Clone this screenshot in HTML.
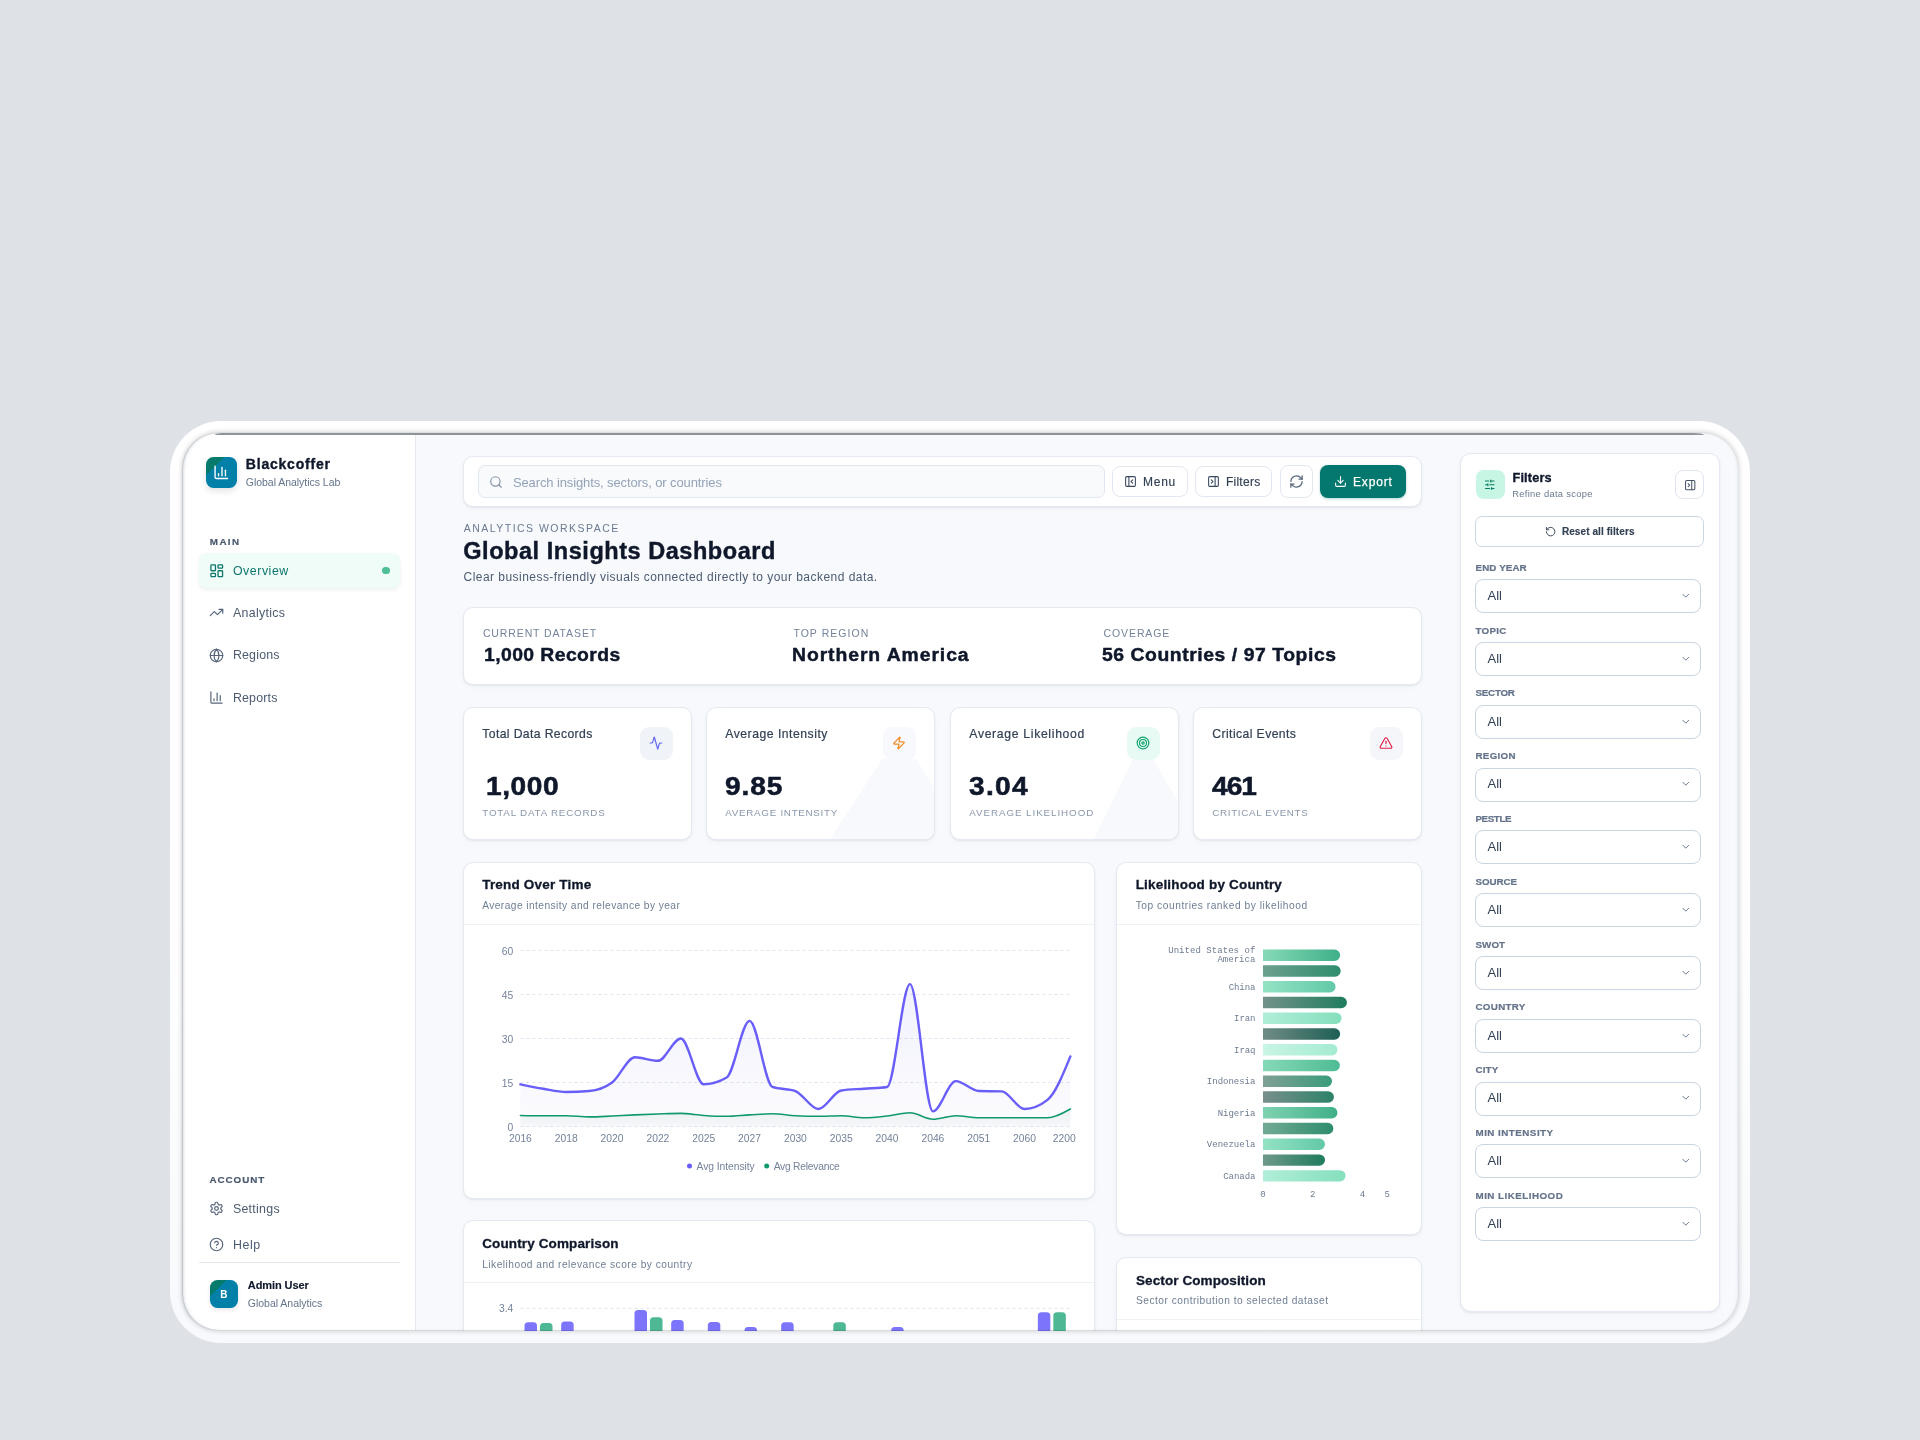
<!DOCTYPE html>
<html lang="en"><head><meta charset="utf-8"><title>Global Insights Dashboard</title><style>
html,body{margin:0;padding:0}
html{width:1920px;height:1440px;overflow:hidden}
body{width:1920px;height:1440px;overflow:hidden;background:#dee1e6;font-family:"Liberation Sans",sans-serif;position:relative}
.b{position:absolute;box-sizing:border-box}
.t{position:absolute;white-space:pre;font-family:"Liberation Sans",sans-serif}
#shell{position:absolute;left:169.7px;top:420.8px;width:1580.6px;height:922px;border-radius:51px;background:linear-gradient(180deg,#ffffff 0%,#fefefe 55%,#f8f9fc 100%)}
#screen{will-change:transform;opacity:.9999;overflow:hidden;position:absolute;left:0;top:0;width:1920px;height:1440px;clip-path:inset(433px 182px 109.7px 183px round 36px);background:#f7f9fc}
#edge{position:absolute;left:183px;top:433px;width:1555px;height:897.3px;border-radius:36px;box-sizing:border-box;box-shadow:0 0 5px 0.5px rgba(20,24,32,.20), -1px 0 1.5px rgba(30,41,59,.16), inset 2.5px 0 3px -1.5px rgba(148,163,184,.35), inset -2px 0 3px -1.5px rgba(148,163,184,.18);pointer-events:none}
#topline{position:absolute;left:215px;top:433px;width:1488.5px;height:2px;background:#8e9499;border-radius:7px 11px 0 0/2px 2px 0 0}
</style></head><body>
<div id="shell"></div>
<div id="screen">
<div class="b" style="left:183.00px;top:434.00px;width:232.00px;height:897.00px;background:#ffffff;border-right:1px solid #e4e8ef;box-sizing:content-box;"></div><div class="b" style="left:206.00px;top:457.00px;width:30.60px;height:30.60px;border-radius:7.5px;background:linear-gradient(135deg,#067a6c 29%,#0380a8 29.5%);box-shadow:0 3px 6px rgba(15,23,42,.12);"></div><svg class="b" style="left:213.00px;top:464.00px;" width="16.6" height="16.6" viewBox="0 0 24 24" fill="none" stroke="#ffffff" stroke-width="2" stroke-linecap="round" stroke-linejoin="round"><path d="M3 3v16a2 2 0 0 0 2 2h16"/><path d="M18 17V9"/><path d="M13 17V5"/><path d="M8 17v-3"/></svg><span class="t" style="left:245.80px;top:455.96px;font-size:14px;line-height:16.8px;color:#0f172a;font-weight:700;letter-spacing:0.793px;-webkit-text-stroke:0.35px #0f172a;">Blackcoffer</span><span class="t" style="left:245.80px;top:476.12px;font-size:10.5px;line-height:12.6px;color:#64748b;letter-spacing:-0.035px;">Global Analytics Lab</span><span class="t" style="left:209.80px;top:535.73px;font-size:9.8px;line-height:11.76px;color:#4a596e;font-weight:700;letter-spacing:1.418px;-webkit-text-stroke:0.2px #4a596e;">MAIN</span><div class="b" style="left:198.60px;top:552.60px;width:201.80px;height:35.00px;border-radius:8px;background:#effcf7;box-shadow:0 2px 4px rgba(15,23,42,.07);"></div><svg class="b" style="left:208.75px;top:562.75px;" width="15.5" height="15.5" viewBox="0 0 24 24" fill="none" stroke="#0f766e" stroke-width="2" stroke-linecap="round" stroke-linejoin="round"><rect width="7" height="9" x="3" y="3" rx="1"/><rect width="7" height="5" x="14" y="3" rx="1"/><rect width="7" height="9" x="14" y="12" rx="1"/><rect width="7" height="5" x="3" y="16" rx="1"/></svg><span class="t" style="left:232.90px;top:563.65px;font-size:12.4px;line-height:14.88px;color:#0f766e;letter-spacing:0.537px;">Overview</span><div class="b" style="left:382px;top:566.7px;width:7.6px;height:7.6px;border-radius:50%;background:#4fc096"></div><svg class="b" style="left:209.00px;top:605.30px;" width="15" height="15" viewBox="0 0 24 24" fill="none" stroke="#56657b" stroke-width="1.9" stroke-linecap="round" stroke-linejoin="round"><polyline points="22 7 13.5 15.5 8.5 10.5 2 17"/><polyline points="16 7 22 7 22 13"/></svg><span class="t" style="left:232.90px;top:605.70px;font-size:12.4px;line-height:14.88px;color:#4c5b70;letter-spacing:0.313px;">Analytics</span><svg class="b" style="left:209.00px;top:647.60px;" width="15" height="15" viewBox="0 0 24 24" fill="none" stroke="#56657b" stroke-width="1.9" stroke-linecap="round" stroke-linejoin="round"><circle cx="12" cy="12" r="10"/><path d="M12 2a14.5 14.5 0 0 0 0 20 14.5 14.5 0 0 0 0-20"/><path d="M2 12h20"/></svg><span class="t" style="left:232.90px;top:647.50px;font-size:12.4px;line-height:14.88px;color:#4c5b70;letter-spacing:0.189px;">Regions</span><svg class="b" style="left:209.00px;top:690.00px;" width="15" height="15" viewBox="0 0 24 24" fill="none" stroke="#56657b" stroke-width="1.9" stroke-linecap="round" stroke-linejoin="round"><path d="M3 3v16a2 2 0 0 0 2 2h16"/><path d="M18 17V9"/><path d="M13 17V5"/><path d="M8 17v-3"/></svg><span class="t" style="left:232.90px;top:690.65px;font-size:12.4px;line-height:14.88px;color:#4c5b70;letter-spacing:0.185px;">Reports</span><span class="t" style="left:209.50px;top:1174.28px;font-size:9.8px;line-height:11.76px;color:#4a596e;font-weight:700;letter-spacing:0.953px;-webkit-text-stroke:0.2px #4a596e;">ACCOUNT</span><svg class="b" style="left:209.00px;top:1201.10px;" width="15" height="15" viewBox="0 0 24 24" fill="none" stroke="#56657b" stroke-width="1.9" stroke-linecap="round" stroke-linejoin="round"><path d="M12.22 2h-.44a2 2 0 0 0-2 2v.18a2 2 0 0 1-1 1.73l-.43.25a2 2 0 0 1-2 0l-.15-.08a2 2 0 0 0-2.73.73l-.22.38a2 2 0 0 0 .73 2.73l.15.1a2 2 0 0 1 1 1.72v.51a2 2 0 0 1-1 1.74l-.15.09a2 2 0 0 0-.73 2.73l.22.38a2 2 0 0 0 2.73.73l.15-.08a2 2 0 0 1 2 0l.43.25a2 2 0 0 1 1 1.73V20a2 2 0 0 0 2 2h.44a2 2 0 0 0 2-2v-.18a2 2 0 0 1 1-1.73l.43-.25a2 2 0 0 1 2 0l.15.08a2 2 0 0 0 2.73-.73l.22-.39a2 2 0 0 0-.73-2.73l-.15-.08a2 2 0 0 1-1-1.74v-.5a2 2 0 0 1 1-1.74l.15-.09a2 2 0 0 0 .73-2.73l-.22-.38a2 2 0 0 0-2.73-.73l-.15.08a2 2 0 0 1-2 0l-.43-.25a2 2 0 0 1-1-1.73V4a2 2 0 0 0-2-2z"/><circle cx="12" cy="12" r="3"/></svg><span class="t" style="left:232.90px;top:1201.50px;font-size:12.4px;line-height:14.88px;color:#4c5b70;letter-spacing:0.274px;">Settings</span><svg class="b" style="left:209.00px;top:1237.10px;" width="15" height="15" viewBox="0 0 24 24" fill="none" stroke="#56657b" stroke-width="1.9" stroke-linecap="round" stroke-linejoin="round"><circle cx="12" cy="12" r="10"/><path d="M9.09 9a3 3 0 0 1 5.83 1c0 2-3 3-3 3"/><path d="M12 17h.01"/></svg><span class="t" style="left:232.90px;top:1237.50px;font-size:12.4px;line-height:14.88px;color:#4c5b70;letter-spacing:0.605px;">Help</span><div class="b" style="left:198.60px;top:1262.00px;width:201.80px;height:1.00px;background:#e4e8ef;"></div><div class="b" style="left:209.50px;top:1279.70px;width:28.80px;height:28.80px;border-radius:7.5px;background:linear-gradient(135deg,#067a6c 29%,#0380a8 29.5%);box-shadow:0 2px 4px rgba(15,23,42,.10);"></div><span class="t" style="left:220.28px;top:1288.66px;font-size:10px;line-height:12.0px;color:#ffffff;font-weight:700;">B</span><span class="t" style="left:247.80px;top:1278.83px;font-size:11px;line-height:13.2px;color:#0f172a;font-weight:700;letter-spacing:-0.083px;-webkit-text-stroke:0.15px #0f172a;">Admin User</span><span class="t" style="left:247.80px;top:1297.02px;font-size:10.5px;line-height:12.6px;color:#64748b;letter-spacing:-0.021px;">Global Analytics</span><div class="b" style="left:463.00px;top:456.00px;width:959.00px;height:51.00px;border-radius:10px;background:#ffffff;border:1px solid #e5e9f1;box-shadow:0 1px 2px rgba(15,23,42,.07), 0 3px 7px rgba(15,23,42,.025);"></div><div class="b" style="left:478.00px;top:465.00px;width:627.00px;height:33.00px;border-radius:7px;background:#f8fafc;border:1px solid #e2e8f0;"></div><svg class="b" style="left:489.30px;top:474.70px;" width="14" height="14" viewBox="0 0 24 24" fill="none" stroke="#8593a8" stroke-width="2" stroke-linecap="round" stroke-linejoin="round"><circle cx="11" cy="11" r="8"/><path d="m21 21-4.3-4.3"/></svg><span class="t" style="left:512.90px;top:474.70px;font-size:13px;line-height:15.6px;color:#94a3b8;letter-spacing:-0.112px;">Search insights, sectors, or countries</span><div class="b" style="left:1112.00px;top:466.00px;width:76.00px;height:31.00px;border-radius:8px;background:#ffffff;border:1px solid #e2e8f0;"></div><svg class="b" style="left:1124.00px;top:475.00px;" width="13" height="13" viewBox="0 0 24 24" fill="none" stroke="#3b4a60" stroke-width="2" stroke-linecap="round" stroke-linejoin="round"><rect width="18" height="18" x="3" y="3" rx="2"/><path d="M9 3v18"/><path d="m16 15-3-3 3-3"/></svg><span class="t" style="left:1143.10px;top:474.54px;font-size:12px;line-height:14.4px;color:#334155;letter-spacing:0.723px;-webkit-text-stroke:0.15px #334155;">Menu</span><div class="b" style="left:1195.00px;top:466.00px;width:77.00px;height:31.00px;border-radius:8px;background:#ffffff;border:1px solid #e2e8f0;"></div><svg class="b" style="left:1207.00px;top:475.00px;" width="13" height="13" viewBox="0 0 24 24" fill="none" stroke="#3b4a60" stroke-width="2" stroke-linecap="round" stroke-linejoin="round"><rect width="18" height="18" x="3" y="3" rx="2"/><path d="M15 3v18"/><path d="m8 9 3 3-3 3"/></svg><span class="t" style="left:1225.90px;top:474.54px;font-size:12px;line-height:14.4px;color:#334155;letter-spacing:0.271px;-webkit-text-stroke:0.15px #334155;">Filters</span><div class="b" style="left:1280.00px;top:465.00px;width:33.00px;height:33.00px;border-radius:8px;background:#ffffff;border:1px solid #e2e8f0;"></div><svg class="b" style="left:1288.70px;top:474.00px;" width="15" height="15" viewBox="0 0 24 24" fill="none" stroke="#56657a" stroke-width="2" stroke-linecap="round" stroke-linejoin="round"><path d="M3 12a9 9 0 0 1 9-9 9.75 9.75 0 0 1 6.74 2.74L21 8"/><path d="M21 3v5h-5"/><path d="M21 12a9 9 0 0 1-9 9 9.75 9.75 0 0 1-6.74-2.74L3 16"/><path d="M8 16H3v5"/></svg><div class="b" style="left:1320.00px;top:465.00px;width:86.00px;height:33.00px;border-radius:8px;background:#04786e;box-shadow:0 1px 3px rgba(4,120,110,.3);"></div><svg class="b" style="left:1334.00px;top:475.30px;" width="13" height="13" viewBox="0 0 24 24" fill="none" stroke="#ffffff" stroke-width="2" stroke-linecap="round" stroke-linejoin="round"><path d="M21 15v4a2 2 0 0 1-2 2H5a2 2 0 0 1-2-2v-4"/><polyline points="7 10 12 15 17 10"/><line x1="12" x2="12" y1="15" y2="3"/></svg><span class="t" style="left:1353.00px;top:474.54px;font-size:12px;line-height:14.4px;color:#ffffff;letter-spacing:0.842px;-webkit-text-stroke:0.25px #ffffff;">Export</span><span class="t" style="left:463.70px;top:522.12px;font-size:10.5px;line-height:12.6px;color:#6b7a90;letter-spacing:1.480px;">ANALYTICS WORKSPACE</span><span class="t" style="left:463.30px;top:536.97px;font-size:23.5px;line-height:28.2px;color:#0f172a;font-weight:700;letter-spacing:0.541px;-webkit-text-stroke:0.4px #0f172a;">Global Insights Dashboard</span><span class="t" style="left:463.50px;top:569.64px;font-size:12px;line-height:14.4px;color:#4c5b70;letter-spacing:0.462px;">Clear business-friendly visuals connected directly to your backend data.</span><div class="b" style="left:463.00px;top:607.00px;width:959.00px;height:78.00px;border-radius:10px;background:#ffffff;border:1px solid #e5e9f1;box-shadow:0 1px 2px rgba(15,23,42,.07), 0 3px 7px rgba(15,23,42,.025);"></div><span class="t" style="left:482.90px;top:626.72px;font-size:10.5px;line-height:12.6px;color:#74839a;letter-spacing:0.883px;">CURRENT DATASET</span><span class="t" style="left:483.60px;top:643.64px;font-size:18.8px;line-height:22.56px;color:#0f172a;font-weight:700;letter-spacing:0.413px;transform:scaleX(1.030);transform-origin:left center;-webkit-text-stroke:0.45px #0f172a;">1,000 Records</span><span class="t" style="left:793.40px;top:626.72px;font-size:10.5px;line-height:12.6px;color:#74839a;letter-spacing:1.039px;">TOP REGION</span><span class="t" style="left:792.20px;top:643.64px;font-size:18.8px;line-height:22.56px;color:#0f172a;font-weight:700;letter-spacing:0.900px;transform:scaleX(1.030);transform-origin:left center;-webkit-text-stroke:0.45px #0f172a;">Northern America</span><span class="t" style="left:1103.60px;top:626.72px;font-size:10.5px;line-height:12.6px;color:#74839a;letter-spacing:0.883px;">COVERAGE</span><span class="t" style="left:1102.40px;top:643.64px;font-size:18.8px;line-height:22.56px;color:#0f172a;font-weight:700;letter-spacing:0.545px;transform:scaleX(1.030);transform-origin:left center;-webkit-text-stroke:0.45px #0f172a;">56 Countries / 97 Topics</span><div class="b" style="left:463.00px;top:707.00px;width:229.00px;height:133.00px;border-radius:10px;background:#ffffff;border:1px solid #e5e9f1;box-shadow:0 1px 2px rgba(15,23,42,.07), 0 3px 7px rgba(15,23,42,.025);overflow:hidden;"></div><span class="t" style="left:482.30px;top:726.67px;font-size:12.2px;line-height:14.64px;color:#334155;letter-spacing:0.374px;-webkit-text-stroke:0.2px #334155;">Total Data Records</span><div class="b" style="left:639.60px;top:726.50px;width:33.00px;height:33.00px;border-radius:9px;background:#f0f3f8;"></div><svg class="b" style="left:649.10px;top:736.00px;" width="14" height="14" viewBox="0 0 24 24" fill="none" stroke="#6366f1" stroke-width="2" stroke-linecap="round" stroke-linejoin="round"><path d="M22 12h-2.48a2 2 0 0 0-1.93 1.46l-2.35 8.36a.25.25 0 0 1-.48 0L9.24 2.18a.25.25 0 0 0-.48 0l-2.35 8.36A2 2 0 0 1 4.49 12H2"/></svg><span class="t" style="left:485.50px;top:770.70px;font-size:26px;line-height:31.2px;color:#0f172a;font-weight:700;letter-spacing:0.536px;transform:scaleX(1.080);transform-origin:left center;-webkit-text-stroke:0.55px #0f172a;">1,000</span><span class="t" style="left:482.30px;top:806.93px;font-size:9.8px;line-height:11.76px;color:#8a97ab;letter-spacing:0.796px;">TOTAL DATA RECORDS</span><div class="b" style="left:706.00px;top:707.00px;width:229.00px;height:133.00px;border-radius:10px;background:#ffffff;border:1px solid #e5e9f1;box-shadow:0 1px 2px rgba(15,23,42,.07), 0 3px 7px rgba(15,23,42,.025);overflow:hidden;"><svg width="229" height="133" style="position:absolute;left:-1px;top:-1px"><polygon points="176.3,52.0 210.1,52.0 229.0,81.5 229.0,133.0 123.5,133.0" fill="#f8f9fc"/></svg></div><span class="t" style="left:725.30px;top:726.67px;font-size:12.2px;line-height:14.64px;color:#334155;letter-spacing:0.509px;-webkit-text-stroke:0.2px #334155;">Average Intensity</span><div class="b" style="left:882.60px;top:726.50px;width:33.00px;height:33.00px;border-radius:9px;background:#f8f9fc;"></div><svg class="b" style="left:892.10px;top:736.00px;" width="14" height="14" viewBox="0 0 24 24" fill="none" stroke="#f08a24" stroke-width="2" stroke-linecap="round" stroke-linejoin="round"><path d="M4 14a1 1 0 0 1-.78-1.63l9.9-10.2a.5.5 0 0 1 .86.46l-1.92 6.02A1 1 0 0 0 13 10h7a1 1 0 0 1 .78 1.63l-9.9 10.2a.5.5 0 0 1-.86-.46l1.92-6.02A1 1 0 0 0 11 14z"/></svg><span class="t" style="left:725.30px;top:770.70px;font-size:26px;line-height:31.2px;color:#0f172a;font-weight:700;letter-spacing:0.815px;transform:scaleX(1.080);transform-origin:left center;-webkit-text-stroke:0.55px #0f172a;">9.85</span><span class="t" style="left:725.30px;top:806.93px;font-size:9.8px;line-height:11.76px;color:#8a97ab;letter-spacing:0.717px;">AVERAGE INTENSITY</span><div class="b" style="left:950.00px;top:707.00px;width:229.00px;height:133.00px;border-radius:10px;background:#ffffff;border:1px solid #e5e9f1;box-shadow:0 1px 2px rgba(15,23,42,.07), 0 3px 7px rgba(15,23,42,.025);overflow:hidden;"><svg width="229" height="133" style="position:absolute;left:-1px;top:-1px"><polygon points="182.5,53.0 203.5,53.0 229.0,96.0 229.0,133.0 143.5,133.0" fill="#f8f9fc"/></svg></div><span class="t" style="left:969.30px;top:726.67px;font-size:12.2px;line-height:14.64px;color:#334155;letter-spacing:0.679px;-webkit-text-stroke:0.2px #334155;">Average Likelihood</span><div class="b" style="left:1126.60px;top:726.50px;width:33.00px;height:33.00px;border-radius:9px;background:#e7faf3;"></div><svg class="b" style="left:1136.10px;top:736.00px;" width="14" height="14" viewBox="0 0 24 24" fill="none" stroke="#10a36e" stroke-width="2" stroke-linecap="round" stroke-linejoin="round"><circle cx="12" cy="12" r="10"/><circle cx="12" cy="12" r="6"/><circle cx="12" cy="12" r="2"/></svg><span class="t" style="left:969.30px;top:770.70px;font-size:26px;line-height:31.2px;color:#0f172a;font-weight:700;letter-spacing:1.186px;transform:scaleX(1.080);transform-origin:left center;-webkit-text-stroke:0.55px #0f172a;">3.04</span><span class="t" style="left:969.30px;top:806.93px;font-size:9.8px;line-height:11.76px;color:#8a97ab;letter-spacing:0.931px;">AVERAGE LIKELIHOOD</span><div class="b" style="left:1193.00px;top:707.00px;width:229.00px;height:133.00px;border-radius:10px;background:#ffffff;border:1px solid #e5e9f1;box-shadow:0 1px 2px rgba(15,23,42,.07), 0 3px 7px rgba(15,23,42,.025);overflow:hidden;"></div><span class="t" style="left:1212.30px;top:726.67px;font-size:12.2px;line-height:14.64px;color:#334155;letter-spacing:0.408px;-webkit-text-stroke:0.2px #334155;">Critical Events</span><div class="b" style="left:1369.60px;top:726.50px;width:33.00px;height:33.00px;border-radius:9px;background:#f5f6fa;"></div><svg class="b" style="left:1379.10px;top:736.00px;" width="14" height="14" viewBox="0 0 24 24" fill="none" stroke="#e11d48" stroke-width="2" stroke-linecap="round" stroke-linejoin="round"><path d="m21.73 18-8-14a2 2 0 0 0-3.48 0l-8 14A2 2 0 0 0 4 21h16a2 2 0 0 0 1.73-3"/><path d="M12 9v4"/><path d="M12 17h.01"/></svg><span class="t" style="left:1212.30px;top:770.70px;font-size:26px;line-height:31.2px;color:#0f172a;font-weight:700;letter-spacing:-0.862px;transform:scaleX(1.080);transform-origin:left center;-webkit-text-stroke:0.55px #0f172a;">461</span><span class="t" style="left:1212.30px;top:806.93px;font-size:9.8px;line-height:11.76px;color:#8a97ab;letter-spacing:0.664px;">CRITICAL EVENTS</span><div class="b" style="left:463.00px;top:862.00px;width:632.00px;height:337.00px;border-radius:10px;background:#ffffff;border:1px solid #e5e9f1;box-shadow:0 1px 2px rgba(15,23,42,.07), 0 3px 7px rgba(15,23,42,.025);"></div><div class="b" style="left:464.00px;top:924.00px;width:630.00px;height:1.00px;background:#eef1f6;"></div><span class="t" style="left:482.20px;top:877.06px;font-size:13.5px;line-height:16.2px;color:#0f172a;font-weight:700;letter-spacing:0.193px;-webkit-text-stroke:0.3px #0f172a;">Trend Over Time</span><span class="t" style="left:482.20px;top:899.60px;font-size:10.2px;line-height:12.24px;color:#6f7e94;letter-spacing:0.438px;">Average intensity and relevance by year</span><svg class="b" style="left:0;top:0" width="1920" height="1440" viewBox="0 0 1920 1440"><defs><linearGradient id="gi" x1="0" y1="0" x2="0" y2="1"><stop offset="0" stop-color="#5b60d8" stop-opacity=".085"/><stop offset="1" stop-color="#5b60d8" stop-opacity=".02"/></linearGradient><linearGradient id="gr" x1="0" y1="0" x2="0" y2="1"><stop offset="0" stop-color="#3a7a68" stop-opacity=".09"/><stop offset="1" stop-color="#3a7a68" stop-opacity=".03"/></linearGradient></defs><line x1="520.4" x2="1070.4" y1="1126.60" y2="1126.60" stroke="#dfe4f0" stroke-width="1" stroke-dasharray="3 3"/><line x1="520.4" x2="1070.4" y1="1082.55" y2="1082.55" stroke="#dfe4f0" stroke-width="1" stroke-dasharray="3 3"/><line x1="520.4" x2="1070.4" y1="1038.50" y2="1038.50" stroke="#dfe4f0" stroke-width="1" stroke-dasharray="3 3"/><line x1="520.4" x2="1070.4" y1="994.45" y2="994.45" stroke="#dfe4f0" stroke-width="1" stroke-dasharray="3 3"/><line x1="520.4" x2="1070.4" y1="950.40" y2="950.40" stroke="#dfe4f0" stroke-width="1" stroke-dasharray="3 3"/><path d="M520.40,1084.31C528.04,1085.88,535.68,1087.44,543.32,1088.72C550.96,1089.99,558.59,1091.95,566.23,1091.95C573.87,1091.95,581.51,1091.65,589.15,1091.07C596.79,1090.48,604.43,1088.18,612.07,1082.55C619.71,1076.92,627.34,1057.29,634.98,1057.29C642.62,1057.29,650.26,1060.82,657.90,1060.82C665.54,1060.82,673.18,1038.50,680.82,1038.50C688.46,1038.50,696.09,1084.31,703.73,1084.31C711.37,1084.31,719.01,1082.06,726.65,1077.56C734.29,1073.05,741.93,1020.88,749.57,1020.88C757.21,1020.88,764.84,1084.21,772.48,1086.95C780.12,1089.70,787.76,1088.33,795.40,1091.07C803.04,1093.81,810.68,1108.98,818.32,1108.98C825.96,1108.98,833.59,1091.65,841.23,1090.48C848.87,1089.30,856.51,1089.30,864.15,1088.72C871.79,1088.13,879.43,1088.13,887.07,1086.95C894.71,1085.78,902.34,984.17,909.98,984.17C917.62,984.17,925.26,1111.33,932.90,1111.33C940.54,1111.33,948.18,1081.08,955.82,1081.08C963.46,1081.08,971.09,1090.87,978.73,1091.07C986.37,1091.26,994.01,1091.16,1001.65,1091.36C1009.29,1091.56,1016.93,1108.98,1024.57,1108.98C1032.21,1108.98,1039.84,1105.95,1047.48,1099.88C1055.12,1093.81,1062.76,1075.11,1070.40,1056.41L1070.40,1126.60L520.40,1126.60Z" fill="url(#gi)"/><path d="M520.40,1084.31C528.04,1085.88,535.68,1087.44,543.32,1088.72C550.96,1089.99,558.59,1091.95,566.23,1091.95C573.87,1091.95,581.51,1091.65,589.15,1091.07C596.79,1090.48,604.43,1088.18,612.07,1082.55C619.71,1076.92,627.34,1057.29,634.98,1057.29C642.62,1057.29,650.26,1060.82,657.90,1060.82C665.54,1060.82,673.18,1038.50,680.82,1038.50C688.46,1038.50,696.09,1084.31,703.73,1084.31C711.37,1084.31,719.01,1082.06,726.65,1077.56C734.29,1073.05,741.93,1020.88,749.57,1020.88C757.21,1020.88,764.84,1084.21,772.48,1086.95C780.12,1089.70,787.76,1088.33,795.40,1091.07C803.04,1093.81,810.68,1108.98,818.32,1108.98C825.96,1108.98,833.59,1091.65,841.23,1090.48C848.87,1089.30,856.51,1089.30,864.15,1088.72C871.79,1088.13,879.43,1088.13,887.07,1086.95C894.71,1085.78,902.34,984.17,909.98,984.17C917.62,984.17,925.26,1111.33,932.90,1111.33C940.54,1111.33,948.18,1081.08,955.82,1081.08C963.46,1081.08,971.09,1090.87,978.73,1091.07C986.37,1091.26,994.01,1091.16,1001.65,1091.36C1009.29,1091.56,1016.93,1108.98,1024.57,1108.98C1032.21,1108.98,1039.84,1105.95,1047.48,1099.88C1055.12,1093.81,1062.76,1075.11,1070.40,1056.41" fill="none" stroke="#6a5ef9" stroke-width="2.4" stroke-linecap="round" stroke-linejoin="round"/><path d="M520.40,1115.44C528.04,1115.59,535.68,1115.73,543.32,1115.73C550.96,1115.73,558.59,1115.73,566.23,1115.73C573.87,1115.73,581.51,1116.91,589.15,1116.91C596.79,1116.91,604.43,1116.37,612.07,1116.03C619.71,1115.69,627.34,1115.20,634.98,1114.85C642.62,1114.51,650.26,1114.22,657.90,1113.97C665.54,1113.73,673.18,1113.38,680.82,1113.38C688.46,1113.38,696.09,1114.95,703.73,1115.44C711.37,1115.93,719.01,1116.32,726.65,1116.32C734.29,1116.32,741.93,1115.29,749.57,1114.85C757.21,1114.41,764.84,1113.68,772.48,1113.68C780.12,1113.68,787.76,1115.34,795.40,1115.73C803.04,1116.13,810.68,1116.32,818.32,1116.32C825.96,1116.32,833.59,1115.73,841.23,1115.73C848.87,1115.73,856.51,1117.79,864.15,1117.79C871.79,1117.79,879.43,1116.86,887.07,1116.03C894.71,1115.20,902.34,1112.80,909.98,1112.80C917.62,1112.80,925.26,1119.26,932.90,1119.26C940.54,1119.26,948.18,1115.73,955.82,1115.73C963.46,1115.73,971.09,1117.79,978.73,1117.79C986.37,1117.79,994.01,1117.79,1001.65,1117.79C1009.29,1117.79,1016.93,1117.79,1024.57,1117.79C1032.21,1117.79,1039.84,1117.79,1047.48,1117.79C1055.12,1117.79,1062.76,1113.38,1070.40,1108.98L1070.40,1126.60L520.40,1126.60Z" fill="url(#gr)"/><path d="M520.40,1115.44C528.04,1115.59,535.68,1115.73,543.32,1115.73C550.96,1115.73,558.59,1115.73,566.23,1115.73C573.87,1115.73,581.51,1116.91,589.15,1116.91C596.79,1116.91,604.43,1116.37,612.07,1116.03C619.71,1115.69,627.34,1115.20,634.98,1114.85C642.62,1114.51,650.26,1114.22,657.90,1113.97C665.54,1113.73,673.18,1113.38,680.82,1113.38C688.46,1113.38,696.09,1114.95,703.73,1115.44C711.37,1115.93,719.01,1116.32,726.65,1116.32C734.29,1116.32,741.93,1115.29,749.57,1114.85C757.21,1114.41,764.84,1113.68,772.48,1113.68C780.12,1113.68,787.76,1115.34,795.40,1115.73C803.04,1116.13,810.68,1116.32,818.32,1116.32C825.96,1116.32,833.59,1115.73,841.23,1115.73C848.87,1115.73,856.51,1117.79,864.15,1117.79C871.79,1117.79,879.43,1116.86,887.07,1116.03C894.71,1115.20,902.34,1112.80,909.98,1112.80C917.62,1112.80,925.26,1119.26,932.90,1119.26C940.54,1119.26,948.18,1115.73,955.82,1115.73C963.46,1115.73,971.09,1117.79,978.73,1117.79C986.37,1117.79,994.01,1117.79,1001.65,1117.79C1009.29,1117.79,1016.93,1117.79,1024.57,1117.79C1032.21,1117.79,1039.84,1117.79,1047.48,1117.79C1055.12,1117.79,1062.76,1113.38,1070.40,1108.98" fill="none" stroke="#109a6c" stroke-width="1.6" stroke-linecap="round" stroke-linejoin="round"/><circle cx="689.5" cy="1166.1" r="2.5" fill="#6a5ef9"/><circle cx="766.7" cy="1166.1" r="2.5" fill="#109a6c"/></svg><span class="t" style="left:507.57px;top:1121.74px;font-size:10.3px;line-height:12.36px;color:#74829a;">0</span><span class="t" style="left:501.83px;top:1077.69px;font-size:10.3px;line-height:12.36px;color:#74829a;">15</span><span class="t" style="left:501.83px;top:1033.64px;font-size:10.3px;line-height:12.36px;color:#74829a;">30</span><span class="t" style="left:501.83px;top:989.59px;font-size:10.3px;line-height:12.36px;color:#74829a;">45</span><span class="t" style="left:501.83px;top:945.54px;font-size:10.3px;line-height:12.36px;color:#74829a;">60</span><span class="t" style="left:508.95px;top:1132.64px;font-size:10.3px;line-height:12.36px;color:#74829a;letter-spacing:-0.007px;">2016</span><span class="t" style="left:554.78px;top:1132.64px;font-size:10.3px;line-height:12.36px;color:#74829a;letter-spacing:-0.007px;">2018</span><span class="t" style="left:600.62px;top:1132.64px;font-size:10.3px;line-height:12.36px;color:#74829a;letter-spacing:-0.007px;">2020</span><span class="t" style="left:646.45px;top:1132.64px;font-size:10.3px;line-height:12.36px;color:#74829a;letter-spacing:-0.007px;">2022</span><span class="t" style="left:692.28px;top:1132.64px;font-size:10.3px;line-height:12.36px;color:#74829a;letter-spacing:-0.007px;">2025</span><span class="t" style="left:738.12px;top:1132.64px;font-size:10.3px;line-height:12.36px;color:#74829a;letter-spacing:-0.007px;">2027</span><span class="t" style="left:783.95px;top:1132.64px;font-size:10.3px;line-height:12.36px;color:#74829a;letter-spacing:-0.007px;">2030</span><span class="t" style="left:829.78px;top:1132.64px;font-size:10.3px;line-height:12.36px;color:#74829a;letter-spacing:-0.007px;">2035</span><span class="t" style="left:875.62px;top:1132.64px;font-size:10.3px;line-height:12.36px;color:#74829a;letter-spacing:-0.007px;">2040</span><span class="t" style="left:921.45px;top:1132.64px;font-size:10.3px;line-height:12.36px;color:#74829a;letter-spacing:-0.007px;">2046</span><span class="t" style="left:967.28px;top:1132.64px;font-size:10.3px;line-height:12.36px;color:#74829a;letter-spacing:-0.007px;">2051</span><span class="t" style="left:1013.12px;top:1132.64px;font-size:10.3px;line-height:12.36px;color:#74829a;letter-spacing:-0.007px;">2060</span><span class="t" style="left:1052.85px;top:1132.64px;font-size:10.3px;line-height:12.36px;color:#74829a;letter-spacing:-0.007px;">2200</span><span class="t" style="left:696.50px;top:1160.54px;font-size:10.3px;line-height:12.36px;color:#74829a;letter-spacing:-0.047px;">Avg Intensity</span><span class="t" style="left:773.70px;top:1160.54px;font-size:10.3px;line-height:12.36px;color:#74829a;letter-spacing:-0.248px;">Avg Relevance</span><div class="b" style="left:1116.00px;top:862.00px;width:306.00px;height:373.00px;border-radius:10px;background:#ffffff;border:1px solid #e5e9f1;box-shadow:0 1px 2px rgba(15,23,42,.07), 0 3px 7px rgba(15,23,42,.025);"></div><div class="b" style="left:1117.00px;top:924.00px;width:304.00px;height:1.00px;background:#eef1f6;"></div><span class="t" style="left:1135.70px;top:876.86px;font-size:13.5px;line-height:16.2px;color:#0f172a;font-weight:700;letter-spacing:0.184px;-webkit-text-stroke:0.3px #0f172a;">Likelihood by Country</span><span class="t" style="left:1135.70px;top:899.60px;font-size:10.2px;line-height:12.24px;color:#6f7e94;letter-spacing:0.543px;">Top countries ranked by likelihood</span><svg class="b" style="left:0;top:0" width="1920" height="1440" viewBox="0 0 1920 1440"><defs><linearGradient id="b0" x1="0" y1="0" x2="1" y2="0"><stop offset="0" stop-color="#86d9b8"/><stop offset="1" stop-color="#3fb088"/></linearGradient><linearGradient id="b1" x1="0" y1="0" x2="1" y2="0"><stop offset="0" stop-color="#6c9f8e"/><stop offset="1" stop-color="#2e8d6c"/></linearGradient><linearGradient id="b2" x1="0" y1="0" x2="1" y2="0"><stop offset="0" stop-color="#93e3c4"/><stop offset="1" stop-color="#62c9a8"/></linearGradient><linearGradient id="b3" x1="0" y1="0" x2="1" y2="0"><stop offset="0" stop-color="#73928a"/><stop offset="1" stop-color="#1f7c5e"/></linearGradient><linearGradient id="b4" x1="0" y1="0" x2="1" y2="0"><stop offset="0" stop-color="#b0eed8"/><stop offset="1" stop-color="#85dfbd"/></linearGradient><linearGradient id="b5" x1="0" y1="0" x2="1" y2="0"><stop offset="0" stop-color="#718c87"/><stop offset="1" stop-color="#1d5f54"/></linearGradient><linearGradient id="b6" x1="0" y1="0" x2="1" y2="0"><stop offset="0" stop-color="#c9f5e5"/><stop offset="1" stop-color="#a3ebd1"/></linearGradient><linearGradient id="b7" x1="0" y1="0" x2="1" y2="0"><stop offset="0" stop-color="#86d9b8"/><stop offset="1" stop-color="#4ebc94"/></linearGradient><linearGradient id="b8" x1="0" y1="0" x2="1" y2="0"><stop offset="0" stop-color="#80a095"/><stop offset="1" stop-color="#3a9c7a"/></linearGradient><linearGradient id="b9" x1="0" y1="0" x2="1" y2="0"><stop offset="0" stop-color="#788f8c"/><stop offset="1" stop-color="#2d8268"/></linearGradient><linearGradient id="b10" x1="0" y1="0" x2="1" y2="0"><stop offset="0" stop-color="#80d2b1"/><stop offset="1" stop-color="#40b088"/></linearGradient><linearGradient id="b11" x1="0" y1="0" x2="1" y2="0"><stop offset="0" stop-color="#72aa95"/><stop offset="1" stop-color="#2e8d6c"/></linearGradient><linearGradient id="b12" x1="0" y1="0" x2="1" y2="0"><stop offset="0" stop-color="#93e3c4"/><stop offset="1" stop-color="#62c9a8"/></linearGradient><linearGradient id="b13" x1="0" y1="0" x2="1" y2="0"><stop offset="0" stop-color="#6e988a"/><stop offset="1" stop-color="#1f7c5e"/></linearGradient><linearGradient id="b14" x1="0" y1="0" x2="1" y2="0"><stop offset="0" stop-color="#b0eed8"/><stop offset="1" stop-color="#85dfbd"/></linearGradient></defs><path d="M1263.00,949.50H1334.45A5.70,5.70,0,0,1,1334.45,960.90H1263.00Z" fill="url(#b0)"/><path d="M1263.00,965.26H1334.99A5.70,5.70,0,0,1,1334.99,976.66H1263.00Z" fill="url(#b1)"/><path d="M1263.00,981.02H1329.85A5.70,5.70,0,0,1,1329.85,992.42H1263.00Z" fill="url(#b2)"/><path d="M1263.00,996.78H1341.22A5.70,5.70,0,0,1,1341.22,1008.18H1263.00Z" fill="url(#b3)"/><path d="M1263.00,1012.54H1335.81A5.70,5.70,0,0,1,1335.81,1023.94H1263.00Z" fill="url(#b4)"/><path d="M1263.00,1028.30H1334.45A5.70,5.70,0,0,1,1334.45,1039.70H1263.00Z" fill="url(#b5)"/><path d="M1263.00,1044.06H1331.75A5.70,5.70,0,0,1,1331.75,1055.46H1263.00Z" fill="url(#b6)"/><path d="M1263.00,1059.82H1334.18A5.70,5.70,0,0,1,1334.18,1071.22H1263.00Z" fill="url(#b7)"/><path d="M1263.00,1075.58H1326.33A5.70,5.70,0,0,1,1326.33,1086.98H1263.00Z" fill="url(#b8)"/><path d="M1263.00,1091.34H1328.23A5.70,5.70,0,0,1,1328.23,1102.74H1263.00Z" fill="url(#b9)"/><path d="M1263.00,1107.10H1331.75A5.70,5.70,0,0,1,1331.75,1118.50H1263.00Z" fill="url(#b10)"/><path d="M1263.00,1122.86H1327.68A5.70,5.70,0,0,1,1327.68,1134.26H1263.00Z" fill="url(#b11)"/><path d="M1263.00,1138.62H1319.29A5.70,5.70,0,0,1,1319.29,1150.02H1263.00Z" fill="url(#b12)"/><path d="M1263.00,1154.38H1319.29A5.70,5.70,0,0,1,1319.29,1165.78H1263.00Z" fill="url(#b13)"/><path d="M1263.00,1170.14H1339.87A5.70,5.70,0,0,1,1339.87,1181.54H1263.00Z" fill="url(#b14)"/></svg><span class="t" style="left:1168.20px;top:945.55px;font-size:9px;line-height:10.8px;color:#6d7b91;letter-spacing:0.052px;font-family:'Liberation Mono',monospace;">United States of</span><span class="t" style="left:1217.40px;top:954.55px;font-size:9px;line-height:10.8px;color:#6d7b91;letter-spacing:0.031px;font-family:'Liberation Mono',monospace;">America</span><span class="t" style="left:1228.65px;top:982.62px;font-size:9px;line-height:10.8px;color:#6d7b91;letter-spacing:-0.066px;font-family:'Liberation Mono',monospace;">China</span><span class="t" style="left:1234.10px;top:1013.64px;font-size:9px;line-height:10.8px;color:#6d7b91;letter-spacing:-0.103px;font-family:'Liberation Mono',monospace;">Iran</span><span class="t" style="left:1234.10px;top:1045.66px;font-size:9px;line-height:10.8px;color:#6d7b91;letter-spacing:-0.103px;font-family:'Liberation Mono',monospace;">Iraq</span><span class="t" style="left:1206.85px;top:1076.68px;font-size:9px;line-height:10.8px;color:#6d7b91;letter-spacing:-0.007px;font-family:'Liberation Mono',monospace;">Indonesia</span><span class="t" style="left:1217.75px;top:1108.70px;font-size:9px;line-height:10.8px;color:#6d7b91;letter-spacing:-0.027px;font-family:'Liberation Mono',monospace;">Nigeria</span><span class="t" style="left:1206.85px;top:1139.72px;font-size:9px;line-height:10.8px;color:#6d7b91;letter-spacing:-0.007px;font-family:'Liberation Mono',monospace;">Venezuela</span><span class="t" style="left:1223.20px;top:1171.74px;font-size:9px;line-height:10.8px;color:#6d7b91;letter-spacing:-0.041px;font-family:'Liberation Mono',monospace;">Canada</span><span class="t" style="left:1260.30px;top:1189.65px;font-size:9px;line-height:10.8px;color:#6d7b91;font-family:'Liberation Mono',monospace;">0</span><span class="t" style="left:1310.00px;top:1189.65px;font-size:9px;line-height:10.8px;color:#6d7b91;font-family:'Liberation Mono',monospace;">2</span><span class="t" style="left:1359.70px;top:1189.65px;font-size:9px;line-height:10.8px;color:#6d7b91;font-family:'Liberation Mono',monospace;">4</span><span class="t" style="left:1384.50px;top:1189.65px;font-size:9px;line-height:10.8px;color:#6d7b91;font-family:'Liberation Mono',monospace;">5</span><div class="b" style="left:463.00px;top:1220.00px;width:632.00px;height:200.00px;border-radius:10px;background:#ffffff;border:1px solid #e5e9f1;box-shadow:0 1px 2px rgba(15,23,42,.07), 0 3px 7px rgba(15,23,42,.025);"></div><div class="b" style="left:464.00px;top:1282.00px;width:630.00px;height:1.00px;background:#eef1f6;"></div><span class="t" style="left:482.20px;top:1236.06px;font-size:13.5px;line-height:16.2px;color:#0f172a;font-weight:700;letter-spacing:0.126px;-webkit-text-stroke:0.3px #0f172a;">Country Comparison</span><span class="t" style="left:482.20px;top:1258.60px;font-size:10.2px;line-height:12.24px;color:#6f7e94;letter-spacing:0.490px;">Likelihood and relevance score by country</span><span class="t" style="left:498.97px;top:1302.69px;font-size:10.3px;line-height:12.36px;color:#74829a;">3.4</span><svg class="b" style="left:0;top:0" width="1920" height="1440" viewBox="0 0 1920 1440"><line x1="520.4" x2="1070.4" y1="1308.4" y2="1308.4" stroke="#dfe4f0" stroke-width="1" stroke-dasharray="3 3"/><rect x="524.50" y="1322.30" width="12.5" height="40" rx="3.5" fill="#7c74fb"/><rect x="561.17" y="1321.60" width="12.5" height="40" rx="3.5" fill="#7c74fb"/><rect x="634.50" y="1310.10" width="12.5" height="40" rx="3.5" fill="#7c74fb"/><rect x="671.17" y="1320.00" width="12.5" height="40" rx="3.5" fill="#7c74fb"/><rect x="707.83" y="1322.00" width="12.5" height="40" rx="3.5" fill="#7c74fb"/><rect x="744.50" y="1327.00" width="12.5" height="40" rx="3.5" fill="#7c74fb"/><rect x="781.17" y="1322.30" width="12.5" height="40" rx="3.5" fill="#7c74fb"/><rect x="891.17" y="1327.00" width="12.5" height="40" rx="3.5" fill="#7c74fb"/><rect x="1037.83" y="1312.20" width="12.5" height="40" rx="3.5" fill="#7c74fb"/><rect x="540.00" y="1323.00" width="12.5" height="40" rx="3.5" fill="#4db893"/><rect x="650.00" y="1317.20" width="12.5" height="40" rx="3.5" fill="#4db893"/><rect x="833.33" y="1322.30" width="12.5" height="40" rx="3.5" fill="#4db893"/><rect x="1053.33" y="1312.20" width="12.5" height="40" rx="3.5" fill="#4db893"/></svg><div class="b" style="left:1116.00px;top:1257.00px;width:306.00px;height:200.00px;border-radius:10px;background:#ffffff;border:1px solid #e5e9f1;box-shadow:0 1px 2px rgba(15,23,42,.07), 0 3px 7px rgba(15,23,42,.025);"></div><div class="b" style="left:1117.00px;top:1319.00px;width:304.00px;height:1.00px;background:#eef1f6;"></div><span class="t" style="left:1136.00px;top:1272.51px;font-size:13.5px;line-height:16.2px;color:#0f172a;font-weight:700;letter-spacing:0.090px;-webkit-text-stroke:0.3px #0f172a;">Sector Composition</span><span class="t" style="left:1136.00px;top:1294.50px;font-size:10.2px;line-height:12.24px;color:#6f7e94;letter-spacing:0.495px;">Sector contribution to selected dataset</span><div class="b" style="left:1460.00px;top:452.60px;width:260.00px;height:859.00px;border-radius:11px;background:#ffffff;border:1px solid #e5e9f1;box-shadow:0 1px 2px rgba(15,23,42,.07), 0 3px 7px rgba(15,23,42,.025);"></div><div class="b" style="left:1475.50px;top:470.00px;width:29.00px;height:29.00px;border-radius:7.5px;background:#c8f6e4;"></div><svg class="b" style="left:1484.05px;top:479.05px;" width="11.5" height="11.5" viewBox="0 0 24 24" fill="none" stroke="#0b7d63" stroke-width="2.2" stroke-linecap="round" stroke-linejoin="round"><line x1="21" x2="14" y1="4" y2="4"/><line x1="10" x2="3" y1="4" y2="4"/><line x1="21" x2="12" y1="12" y2="12"/><line x1="8" x2="3" y1="12" y2="12"/><line x1="21" x2="16" y1="20" y2="20"/><line x1="12" x2="3" y1="20" y2="20"/><line x1="14" x2="14" y1="2" y2="6"/><line x1="8" x2="8" y1="10" y2="14"/><line x1="16" x2="16" y1="18" y2="22"/></svg><span class="t" style="left:1512.50px;top:470.53px;font-size:12.7px;line-height:15.24px;color:#0f172a;font-weight:700;letter-spacing:0.170px;-webkit-text-stroke:0.35px #0f172a;">Filters</span><span class="t" style="left:1512.20px;top:487.97px;font-size:9.4px;line-height:11.28px;color:#6b7a90;letter-spacing:0.295px;">Refine data scope</span><div class="b" style="left:1675.00px;top:470.00px;width:29.00px;height:29.00px;border-radius:8px;background:#ffffff;border:1px solid #dfe5ee;"></div><svg class="b" style="left:1683.60px;top:478.80px;" width="12.4" height="12.4" viewBox="0 0 24 24" fill="none" stroke="#475569" stroke-width="2" stroke-linecap="round" stroke-linejoin="round"><rect width="18" height="18" x="3" y="3" rx="2"/><path d="M15 3v18"/><path d="m8 9 3 3-3 3"/></svg><div class="b" style="left:1475.00px;top:516.00px;width:229.00px;height:31.00px;border-radius:7px;background:#ffffff;border:1px solid #cdd6e3;"></div><svg class="b" style="left:1544.65px;top:525.75px;" width="11.3" height="11.3" viewBox="0 0 24 24" fill="none" stroke="#334155" stroke-width="2" stroke-linecap="round" stroke-linejoin="round"><path d="M3 12a9 9 0 1 0 9-9 9.75 9.75 0 0 0-6.74 2.74L3 8"/><path d="M3 3v5h5"/></svg><span class="t" style="left:1561.90px;top:525.57px;font-size:10px;line-height:12.0px;color:#334155;font-weight:700;letter-spacing:0.090px;-webkit-text-stroke:0.15px #334155;">Reset all filters</span><span class="t" style="left:1475.50px;top:561.93px;font-size:9.8px;line-height:11.76px;color:#64738a;font-weight:700;letter-spacing:0.107px;-webkit-text-stroke:0.2px #64738a;">END YEAR</span><div class="b" style="left:1475.00px;top:579.00px;width:226.00px;height:34.00px;border-radius:8px;background:#ffffff;border:1px solid #cad4e2;"></div><span class="t" style="left:1487.50px;top:587.95px;font-size:13px;line-height:15.6px;color:#334155;letter-spacing:0.023px;">All</span><svg class="b" style="left:1680.05px;top:590.05px;" width="11.5" height="11.5" viewBox="0 0 24 24" fill="none" stroke="#64748b" stroke-width="2" stroke-linecap="round" stroke-linejoin="round"><path d="m6 9 6 6 6-6"/></svg><span class="t" style="left:1475.50px;top:624.73px;font-size:9.8px;line-height:11.76px;color:#64738a;font-weight:700;letter-spacing:0.259px;-webkit-text-stroke:0.2px #64738a;">TOPIC</span><div class="b" style="left:1475.00px;top:642.00px;width:226.00px;height:34.00px;border-radius:8px;background:#ffffff;border:1px solid #cad4e2;"></div><span class="t" style="left:1487.50px;top:650.75px;font-size:13px;line-height:15.6px;color:#334155;letter-spacing:0.023px;">All</span><svg class="b" style="left:1680.05px;top:652.85px;" width="11.5" height="11.5" viewBox="0 0 24 24" fill="none" stroke="#64748b" stroke-width="2" stroke-linecap="round" stroke-linejoin="round"><path d="m6 9 6 6 6-6"/></svg><span class="t" style="left:1475.50px;top:687.28px;font-size:9.8px;line-height:11.76px;color:#64738a;font-weight:700;letter-spacing:-0.251px;-webkit-text-stroke:0.2px #64738a;">SECTOR</span><div class="b" style="left:1475.00px;top:705.00px;width:226.00px;height:34.00px;border-radius:8px;background:#ffffff;border:1px solid #cad4e2;"></div><span class="t" style="left:1487.50px;top:713.55px;font-size:13px;line-height:15.6px;color:#334155;letter-spacing:0.023px;">All</span><svg class="b" style="left:1680.05px;top:715.65px;" width="11.5" height="11.5" viewBox="0 0 24 24" fill="none" stroke="#64748b" stroke-width="2" stroke-linecap="round" stroke-linejoin="round"><path d="m6 9 6 6 6-6"/></svg><span class="t" style="left:1475.50px;top:750.33px;font-size:9.8px;line-height:11.76px;color:#64738a;font-weight:700;letter-spacing:0.269px;-webkit-text-stroke:0.2px #64738a;">REGION</span><div class="b" style="left:1475.00px;top:768.00px;width:226.00px;height:34.00px;border-radius:8px;background:#ffffff;border:1px solid #cad4e2;"></div><span class="t" style="left:1487.50px;top:776.35px;font-size:13px;line-height:15.6px;color:#334155;letter-spacing:0.023px;">All</span><svg class="b" style="left:1680.05px;top:778.45px;" width="11.5" height="11.5" viewBox="0 0 24 24" fill="none" stroke="#64748b" stroke-width="2" stroke-linecap="round" stroke-linejoin="round"><path d="m6 9 6 6 6-6"/></svg><span class="t" style="left:1475.50px;top:813.13px;font-size:9.8px;line-height:11.76px;color:#64738a;font-weight:700;letter-spacing:-0.422px;-webkit-text-stroke:0.2px #64738a;">PESTLE</span><div class="b" style="left:1475.00px;top:830.00px;width:226.00px;height:34.00px;border-radius:8px;background:#ffffff;border:1px solid #cad4e2;"></div><span class="t" style="left:1487.50px;top:839.15px;font-size:13px;line-height:15.6px;color:#334155;letter-spacing:0.023px;">All</span><svg class="b" style="left:1680.05px;top:841.25px;" width="11.5" height="11.5" viewBox="0 0 24 24" fill="none" stroke="#64748b" stroke-width="2" stroke-linecap="round" stroke-linejoin="round"><path d="m6 9 6 6 6-6"/></svg><span class="t" style="left:1475.50px;top:875.93px;font-size:9.8px;line-height:11.76px;color:#64738a;font-weight:700;letter-spacing:-0.084px;-webkit-text-stroke:0.2px #64738a;">SOURCE</span><div class="b" style="left:1475.00px;top:893.00px;width:226.00px;height:34.00px;border-radius:8px;background:#ffffff;border:1px solid #cad4e2;"></div><span class="t" style="left:1487.50px;top:901.95px;font-size:13px;line-height:15.6px;color:#334155;letter-spacing:0.023px;">All</span><svg class="b" style="left:1680.05px;top:904.05px;" width="11.5" height="11.5" viewBox="0 0 24 24" fill="none" stroke="#64748b" stroke-width="2" stroke-linecap="round" stroke-linejoin="round"><path d="m6 9 6 6 6-6"/></svg><span class="t" style="left:1475.50px;top:938.73px;font-size:9.8px;line-height:11.76px;color:#64738a;font-weight:700;letter-spacing:0.070px;-webkit-text-stroke:0.2px #64738a;">SWOT</span><div class="b" style="left:1475.00px;top:956.00px;width:226.00px;height:34.00px;border-radius:8px;background:#ffffff;border:1px solid #cad4e2;"></div><span class="t" style="left:1487.50px;top:964.75px;font-size:13px;line-height:15.6px;color:#334155;letter-spacing:0.023px;">All</span><svg class="b" style="left:1680.05px;top:966.85px;" width="11.5" height="11.5" viewBox="0 0 24 24" fill="none" stroke="#64748b" stroke-width="2" stroke-linecap="round" stroke-linejoin="round"><path d="m6 9 6 6 6-6"/></svg><span class="t" style="left:1475.50px;top:1001.28px;font-size:9.8px;line-height:11.76px;color:#64738a;font-weight:700;letter-spacing:0.287px;-webkit-text-stroke:0.2px #64738a;">COUNTRY</span><div class="b" style="left:1475.00px;top:1019.00px;width:226.00px;height:34.00px;border-radius:8px;background:#ffffff;border:1px solid #cad4e2;"></div><span class="t" style="left:1487.50px;top:1027.55px;font-size:13px;line-height:15.6px;color:#334155;letter-spacing:0.023px;">All</span><svg class="b" style="left:1680.05px;top:1029.65px;" width="11.5" height="11.5" viewBox="0 0 24 24" fill="none" stroke="#64748b" stroke-width="2" stroke-linecap="round" stroke-linejoin="round"><path d="m6 9 6 6 6-6"/></svg><span class="t" style="left:1475.50px;top:1064.33px;font-size:9.8px;line-height:11.76px;color:#64738a;font-weight:700;letter-spacing:0.124px;-webkit-text-stroke:0.2px #64738a;">CITY</span><div class="b" style="left:1475.00px;top:1082.00px;width:226.00px;height:34.00px;border-radius:8px;background:#ffffff;border:1px solid #cad4e2;"></div><span class="t" style="left:1487.50px;top:1090.35px;font-size:13px;line-height:15.6px;color:#334155;letter-spacing:0.023px;">All</span><svg class="b" style="left:1680.05px;top:1092.45px;" width="11.5" height="11.5" viewBox="0 0 24 24" fill="none" stroke="#64748b" stroke-width="2" stroke-linecap="round" stroke-linejoin="round"><path d="m6 9 6 6 6-6"/></svg><span class="t" style="left:1475.50px;top:1127.13px;font-size:9.8px;line-height:11.76px;color:#64738a;font-weight:700;letter-spacing:0.478px;-webkit-text-stroke:0.2px #64738a;">MIN INTENSITY</span><div class="b" style="left:1475.00px;top:1144.00px;width:226.00px;height:34.00px;border-radius:8px;background:#ffffff;border:1px solid #cad4e2;"></div><span class="t" style="left:1487.50px;top:1153.15px;font-size:13px;line-height:15.6px;color:#334155;letter-spacing:0.023px;">All</span><svg class="b" style="left:1680.05px;top:1155.25px;" width="11.5" height="11.5" viewBox="0 0 24 24" fill="none" stroke="#64748b" stroke-width="2" stroke-linecap="round" stroke-linejoin="round"><path d="m6 9 6 6 6-6"/></svg><span class="t" style="left:1475.50px;top:1189.93px;font-size:9.8px;line-height:11.76px;color:#64738a;font-weight:700;letter-spacing:0.477px;-webkit-text-stroke:0.2px #64738a;">MIN LIKELIHOOD</span><div class="b" style="left:1475.00px;top:1207.00px;width:226.00px;height:34.00px;border-radius:8px;background:#ffffff;border:1px solid #cad4e2;"></div><span class="t" style="left:1487.50px;top:1215.95px;font-size:13px;line-height:15.6px;color:#334155;letter-spacing:0.023px;">All</span><svg class="b" style="left:1680.05px;top:1218.05px;" width="11.5" height="11.5" viewBox="0 0 24 24" fill="none" stroke="#64748b" stroke-width="2" stroke-linecap="round" stroke-linejoin="round"><path d="m6 9 6 6 6-6"/></svg>
<div id="topline"></div>
</div>
<div id="edge"></div>
</body></html>
